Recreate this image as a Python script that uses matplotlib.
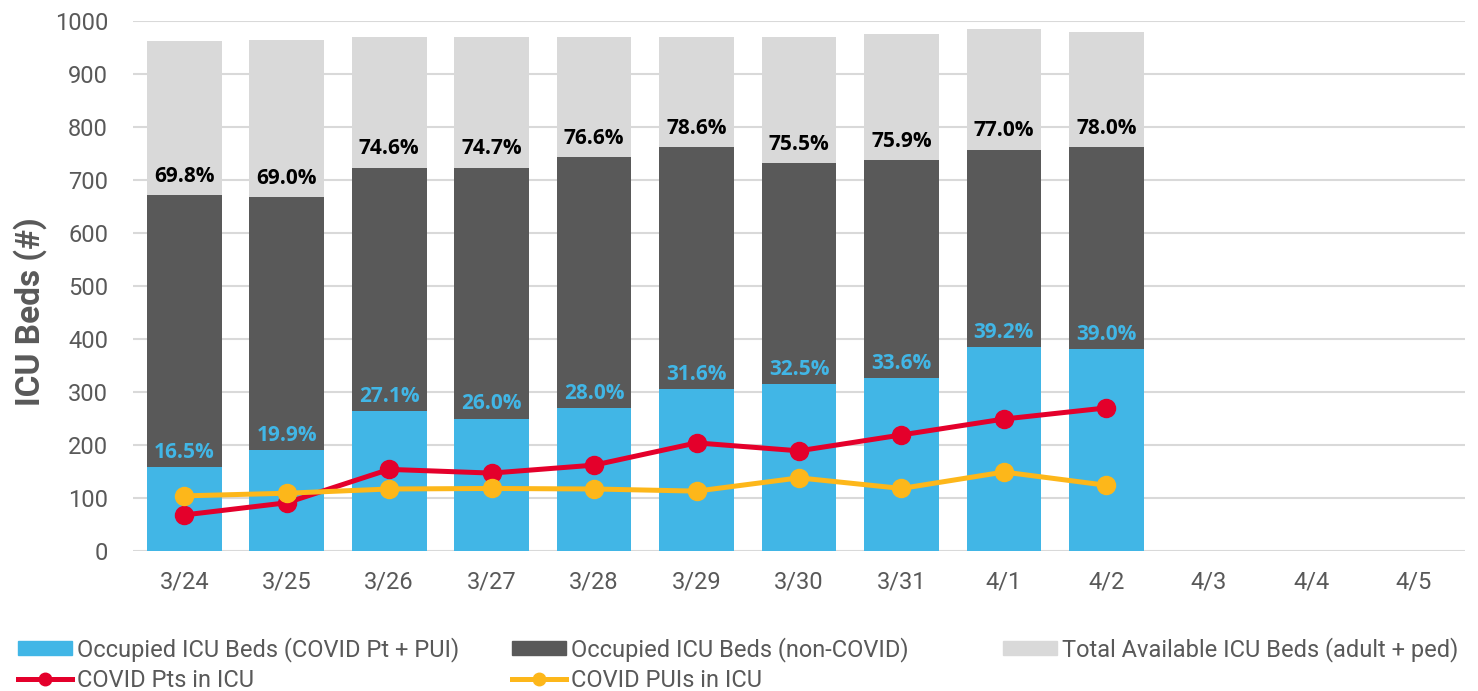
import matplotlib
matplotlib.use("Agg")
import matplotlib.pyplot as plt
from matplotlib.lines import Line2D
from matplotlib.patches import Patch

categories = ["3/24", "3/25", "3/26", "3/27", "3/28", "3/29", "3/30", "3/31", "4/1", "4/2", "4/3", "4/4", "4/5"]
covid_occupied = [159, 190, 264, 250, 270, 306, 315, 326, 385, 381]
noncovid_occupied = [513, 477, 459, 473, 473, 456, 417, 412, 372, 381]
available = [291, 298, 246, 246, 227, 207, 237, 237, 227, 217]
total_pct_labels = ["69.8%", "69.0%", "74.6%", "74.7%", "76.6%", "78.6%", "75.5%", "75.9%", "77.0%", "78.0%"]
covid_pct_labels = ["16.5%", "19.9%", "27.1%", "26.0%", "28.0%", "31.6%", "32.5%", "33.6%", "39.2%", "39.0%"]
covid_pts = [68, 91, 154, 147, 162, 204, 189, 219, 249, 270]
covid_puis = [104, 109, 117, 118, 117, 113, 138, 118, 149, 124]

BLUE = "#41B6E6"
DARK = "#595959"
LIGHT = "#D9D9D9"
RED = "#E4002B"
YELLOW = "#FDB71A"
TXT = "#595959"

plt.rcParams['font.family'] = ['Roboto', 'DejaVu Sans']

fig = plt.figure(figsize=(14.78, 6.91), dpi=100)
ax = fig.add_axes([133/1478, 1-551/691, 1332/1478, 530/691])

x = list(range(len(categories)))
n = len(covid_occupied)
xb = x[:n]
w = 0.73
ax.bar(xb, covid_occupied, w, color=BLUE, zorder=2)
ax.bar(xb, noncovid_occupied, w, bottom=covid_occupied, color=DARK, zorder=2)
occ_tot = [a + b for a, b in zip(covid_occupied, noncovid_occupied)]
ax.bar(xb, available, w, bottom=occ_tot, color=LIGHT, zorder=2)

ax.plot(xb, covid_pts, color=RED, lw=3.6, marker='o', ms=13, zorder=4)
ax.plot(xb, covid_puis, color=YELLOW, lw=3.6, marker='o', ms=13, zorder=4)

for i in xb:
    ax.annotate(total_pct_labels[i], (i, occ_tot[i]), xytext=(0, 6), textcoords='offset points',
                ha='center', va='bottom', fontsize=15, fontweight='bold', color='black',
                family=['Open Sans', 'DejaVu Sans'], zorder=5)
    ax.annotate(covid_pct_labels[i], (i, covid_occupied[i]), xytext=(0, 3), textcoords='offset points',
                ha='center', va='bottom', fontsize=15, fontweight='bold', color=BLUE,
                family=['Open Sans', 'DejaVu Sans'], zorder=5)

ax.set_xlim(-0.5, len(categories) - 0.5)
ax.set_ylim(0, 1000)
ax.set_yticks(range(0, 1001, 100))
ax.set_xticks(x)
ax.set_xticklabels(categories)
ax.tick_params(axis='both', length=0, labelsize=17, labelcolor=TXT)
ax.tick_params(axis='x', pad=14)
ax.tick_params(axis='y', pad=18)
ax.grid(axis='y', color=LIGHT, lw=1.5, zorder=0)
ax.set_axisbelow(True)
for s in ax.spines.values():
    s.set_visible(False)
ax.set_ylabel("ICU Beds (#)", fontsize=24, fontweight='bold', color=TXT)
ax.yaxis.set_label_coords((47 - 133) / 1332, 0.451)

leg_kw = dict(loc='upper left', frameon=False, fontsize=17, handlelength=2.3, handletextpad=0.2,
              handleheight=0.55, labelspacing=0.3, borderaxespad=0, borderpad=0, labelcolor=TXT)
h1 = [Patch(color=BLUE), Line2D([], [], color=RED, lw=3.6, marker='o', ms=9)]
fig.legend(h1, ["Occupied ICU Beds (COVID Pt + PUI)", "COVID Pts in ICU"],
           bbox_to_anchor=(18/1478, 1-637/691), **leg_kw)
h2 = [Patch(color=DARK), Line2D([], [], color=YELLOW, lw=3.6, marker='o', ms=9)]
fig.legend(h2, ["Occupied ICU Beds (non-COVID)", "COVID PUIs in ICU"],
           bbox_to_anchor=(512/1478, 1-637/691), **leg_kw)
h3 = [Patch(color=LIGHT)]
fig.legend(h3, ["Total Available ICU Beds (adult + ped)"],
           bbox_to_anchor=(1003/1478, 1-637/691), **leg_kw)

fig.savefig("out.png", dpi=100)
